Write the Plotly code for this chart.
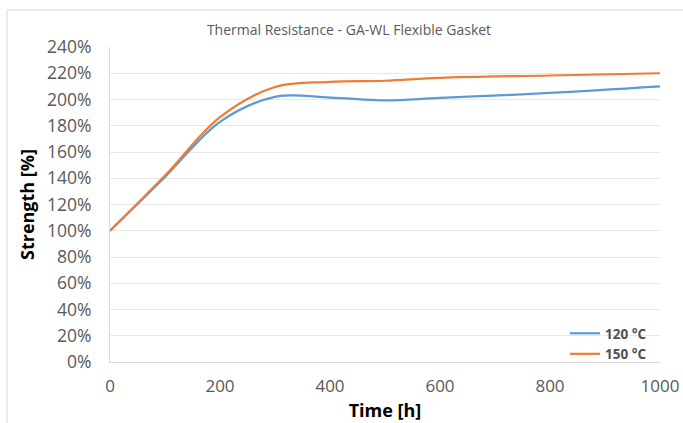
import plotly.graph_objects as go

time_h = [0, 100, 200, 300, 400, 500, 600, 800, 1000]
strength_120 = [1.00, 1.41, 1.83, 2.02, 2.015, 1.993, 2.012, 2.05, 2.10]
strength_150 = [1.00, 1.42, 1.865, 2.095, 2.134, 2.143, 2.165, 2.183, 2.20]
series_names = ["120 °C", "150 °C"]
colors = ["#5B9BD5", "#ED7D31"]
y_ticks = [i / 100 for i in range(0, 241, 20)]
x_ticks = [0, 200, 400, 600, 800, 1000]

fig = go.Figure()
for name, ys, c in zip(series_names, [strength_120, strength_150], colors):
    fig.add_trace(go.Scatter(x=time_h, y=ys, name=name, mode="lines",
                             line=dict(color=c, width=2.2, shape="spline", smoothing=1.0)))

W, H = 683, 423
L, R, T, B = 110, 683 - 660, 47, 423 - 362
pw, ph = W - L - R, H - T - B

def px_x(x):  # page x -> paper
    return (x - L) / pw

def px_y(y):  # page y -> paper
    return (H - B - y) / ph

fig.update_layout(
    width=W, height=H,
    margin=dict(l=L, r=R, t=T, b=B, pad=0, autoexpand=False),
    paper_bgcolor="white", plot_bgcolor="white",
    title=dict(text="Thermal Resistance - GA-WL Flexible Gasket",
               x=349 / W, xanchor="center", y=1 - 30 / H, yanchor="middle",
               font=dict(family="Open Sans", size=14, color="#595959")),
    xaxis=dict(range=[0, 1000], tickvals=x_ticks, showgrid=False, zeroline=False,
               showline=True, linecolor="#D9D9D9", linewidth=1, ticks="",
               automargin=False, ticklabelstandoff=9,
               tickfont=dict(family="Open Sans", size=17, color="#595959"),
               title=dict(text="<b>Time [h]</b>", standoff=7,
                          font=dict(family="Open Sans", size=18, color="#000000"))),
    yaxis=dict(range=[0, 2.4], tickvals=y_ticks, tickformat=".0%", showgrid=True,
               gridcolor="#E8E8E8", gridwidth=1, zeroline=False,
               showline=True, linecolor="#D9D9D9", linewidth=1, ticks="",
               automargin=False, ticklabelstandoff=14,
               tickfont=dict(family="Open Sans", size=17.5, color="#595959"),
               title=dict(text="<b>Strength [%]</b>", standoff=7,
                          font=dict(family="Open Sans", size=18, color="#000000"))),
    legend=dict(x=px_x(565), y=px_y(318), xanchor="left", yanchor="top",
                bgcolor="rgba(0,0,0,0)", itemwidth=30, tracegroupgap=0,
                font=dict(family="Open Sans", size=13.5, color="#505050", weight="bold")),
    showlegend=True,
)
fig.add_shape(type="rect", xref="paper", yref="paper",
              x0=px_x(7), y0=px_y(440), x1=px_x(700), y1=px_y(10),
              line=dict(color="#D9D9D9", width=1), fillcolor="rgba(0,0,0,0)", layer="below")

fig.write_html("out.html", config={"displayModeBar": False},
               post_script="document.body.style.margin='0';document.body.style.overflow='hidden';")
